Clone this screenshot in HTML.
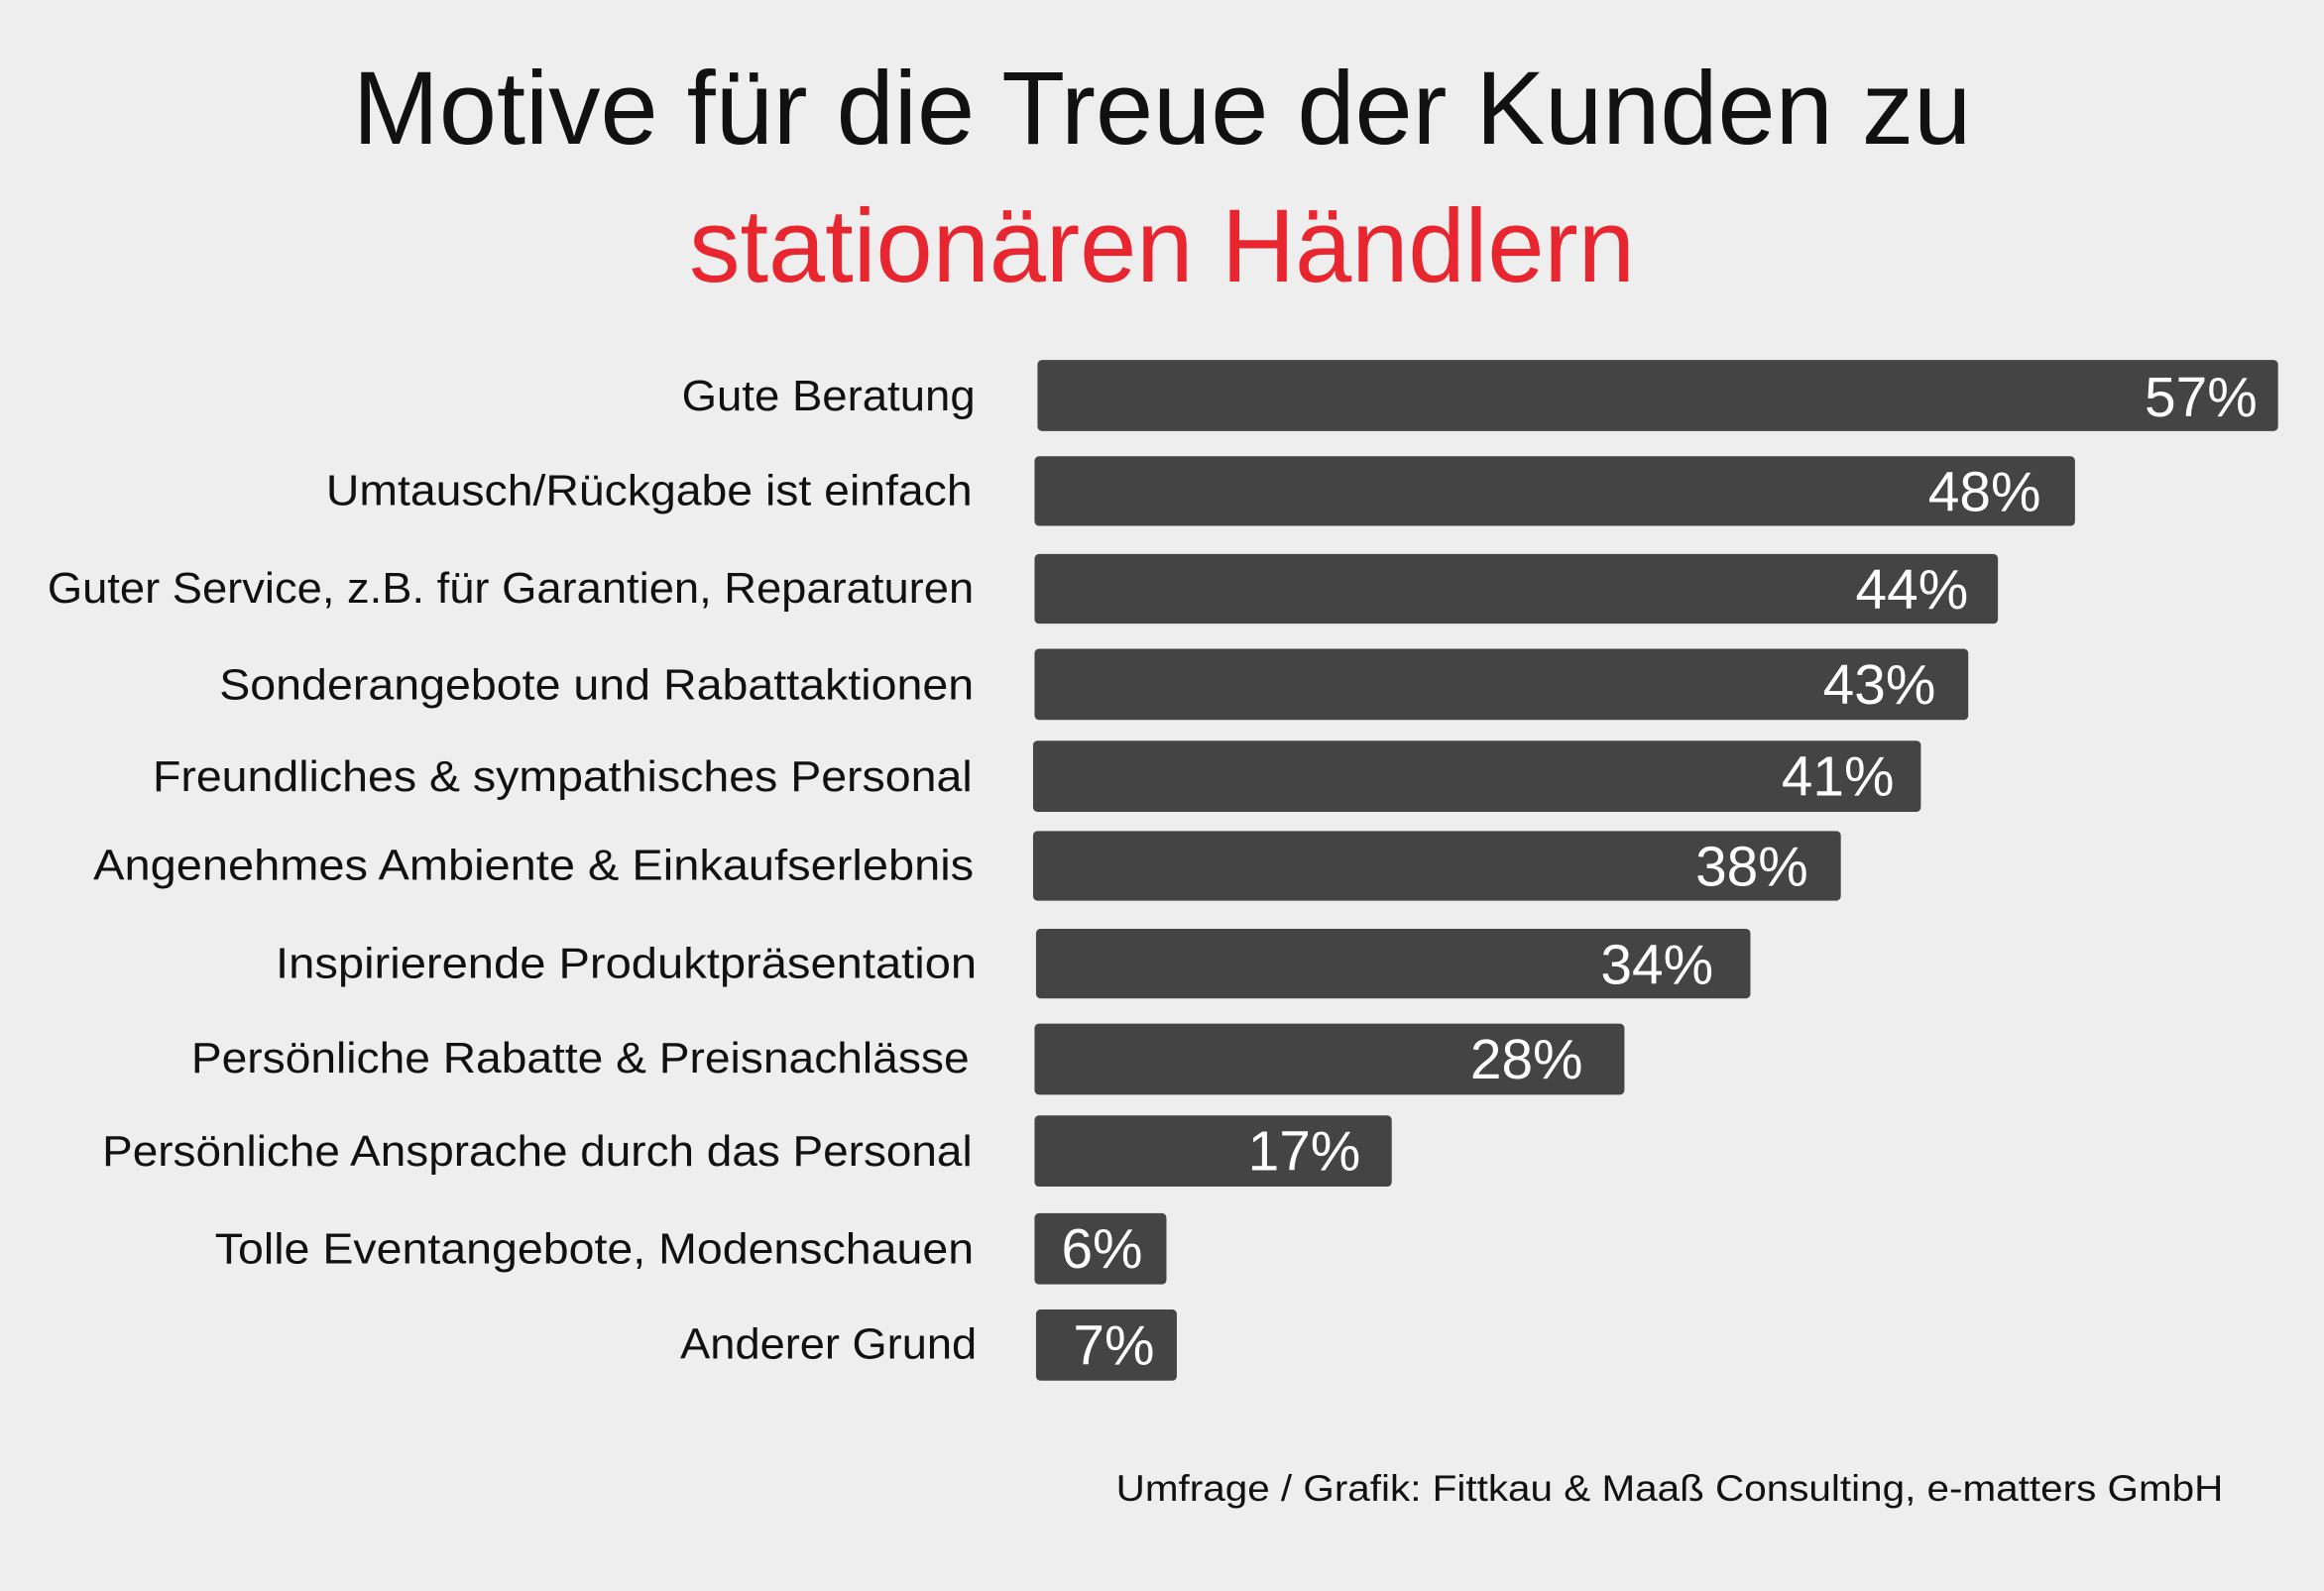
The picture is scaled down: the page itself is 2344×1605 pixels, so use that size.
<!DOCTYPE html>
<html><head><meta charset="utf-8"><style>
html,body{margin:0;padding:0;background:#eeeeee;}
svg{display:block;}
text{font-family:"Liberation Sans",sans-serif;}
</style></head><body>
<svg width="2344" height="1605" viewBox="0 0 1568 1074" preserveAspectRatio="none" xmlns="http://www.w3.org/2000/svg">
<rect width="1568" height="1074" fill="#eeeeee"/>
<text x="238" y="97" font-size="70" fill="#111" textLength="1092" lengthAdjust="spacingAndGlyphs">Motive für die Treue der Kunden zu</text>
<text x="465" y="190" font-size="70" fill="#e8262f" textLength="638" lengthAdjust="spacingAndGlyphs">stationären Händlern</text>
<g fill="#444444">
<rect x="700" y="243" width="837" height="48" rx="3"/>
<rect x="698" y="308" width="702" height="47" rx="3"/>
<rect x="698" y="374" width="650" height="47" rx="3"/>
<rect x="698" y="438" width="630" height="48" rx="3"/>
<rect x="697" y="500" width="599" height="48" rx="3"/>
<rect x="697" y="561" width="545" height="47" rx="3"/>
<rect x="699" y="627" width="482" height="47" rx="3"/>
<rect x="698" y="691" width="398" height="48" rx="3"/>
<rect x="698" y="753" width="241" height="48" rx="3"/>
<rect x="698" y="819" width="89" height="48" rx="3"/>
<rect x="699" y="884" width="95" height="48" rx="3"/>
</g>
<g font-size="29" fill="#111">
<text x="460" y="277" textLength="198" lengthAdjust="spacingAndGlyphs">Gute Beratung</text>
<text x="220" y="341" textLength="436" lengthAdjust="spacingAndGlyphs">Umtausch/Rückgabe ist einfach</text>
<text x="32" y="407" textLength="625" lengthAdjust="spacingAndGlyphs">Guter Service, z.B. für Garantien, Reparaturen</text>
<text x="148" y="472" textLength="509" lengthAdjust="spacingAndGlyphs">Sonderangebote und Rabattaktionen</text>
<text x="103" y="534" textLength="553" lengthAdjust="spacingAndGlyphs">Freundliches &amp; sympathisches Personal</text>
<text x="63" y="594" textLength="594" lengthAdjust="spacingAndGlyphs">Angenehmes Ambiente &amp; Einkaufserlebnis</text>
<text x="186" y="660" textLength="473" lengthAdjust="spacingAndGlyphs">Inspirierende Produktpräsentation</text>
<text x="129" y="724" textLength="525" lengthAdjust="spacingAndGlyphs">Persönliche Rabatte &amp; Preisnachlässe</text>
<text x="69" y="787" textLength="587" lengthAdjust="spacingAndGlyphs">Persönliche Ansprache durch das Personal</text>
<text x="145" y="853" textLength="512" lengthAdjust="spacingAndGlyphs">Tolle Eventangebote, Modenschauen</text>
<text x="459" y="917" textLength="200" lengthAdjust="spacingAndGlyphs">Anderer Grund</text>
</g>
<g font-size="38" fill="#ffffff" text-anchor="end">
<text x="1523" y="281">57%</text>
<text x="1377" y="345">48%</text>
<text x="1328" y="411">44%</text>
<text x="1306" y="475">43%</text>
<text x="1278" y="537">41%</text>
<text x="1220" y="598">38%</text>
<text x="1156" y="664">34%</text>
<text x="1068" y="728">28%</text>
<text x="918" y="790">17%</text>
<text x="771" y="856">6%</text>
<text x="779" y="921">7%</text>
</g>
<text x="753" y="1013" font-size="25" fill="#111" textLength="747" lengthAdjust="spacingAndGlyphs">Umfrage / Grafik: Fittkau &amp; Maaß Consulting, e-matters GmbH</text>
</svg>
</body></html>
